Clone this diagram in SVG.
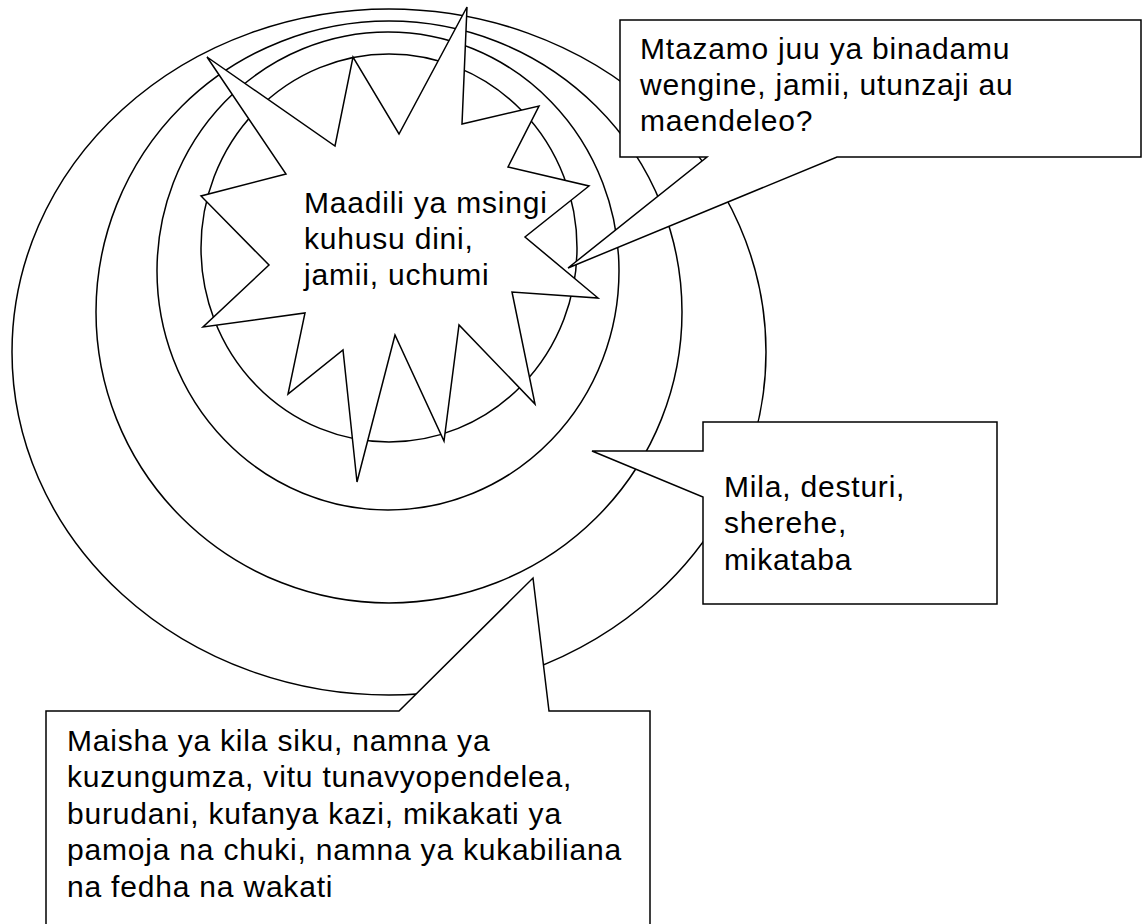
<svg xmlns="http://www.w3.org/2000/svg" width="1143" height="924" viewBox="0 0 1143 924">
  <style>
    .shape { fill: #ffffff; stroke: #000000; stroke-width: 1.5; stroke-linejoin: miter; }
    .label { font-family: "Liberation Sans", Arial, sans-serif; font-size: 30px; letter-spacing: 0.8px; fill: #000000; }
  </style>
  <rect x="0" y="0" width="1143" height="924" fill="#ffffff"/>
  <g id="rings">
    <ellipse id="ring-outer" class="shape" cx="389" cy="352" rx="377" ry="343"/>
    <ellipse id="ring-2" class="shape" cx="389" cy="312" rx="293" ry="291"/>
    <ellipse id="ring-3" class="shape" cx="388" cy="271" rx="231" ry="239"/>
    <ellipse id="ring-inner" class="shape" cx="389" cy="248" rx="188" ry="194"/>
  </g>
  <g id="core-values">
    <polygon class="shape" points="467,7 462,124 539,106 508,167 589,186 525,237 598,298 512,292 535,404 459,325 444,441 395,335 357,482 343,350 288,394 305,313 203,327 269,265 201,196 286,174 207,57 335,146 353,57 399,134"/>
    <text class="label">
      <tspan x="304" y="213">Maadili ya msingi</tspan>
      <tspan x="304" y="249">kuhusu dini,</tspan>
      <tspan x="304" y="285">jamii, uchumi</tspan>
    </text>
  </g>
  <g id="connectors"></g>
  <g id="callout-attitudes">
    <path class="shape" d="M620,20 H1141 V157 H837 L568,268 L707,157 H620 Z"/>
    <text class="label">
      <tspan x="640" y="59">Mtazamo juu ya binadamu</tspan>
      <tspan x="640" y="95">wengine, jamii, utunzaji au</tspan>
      <tspan x="640" y="131">maendeleo?</tspan>
    </text>
  </g>
  <g id="callout-customs">
    <path class="shape" d="M703,422 H997 V604 H703 V497 L592,451 H703 Z"/>
    <text class="label">
      <tspan x="724" y="497">Mila, desturi,</tspan>
      <tspan x="724" y="533">sherehe,</tspan>
      <tspan x="724" y="570">mikataba</tspan>
    </text>
  </g>
  <g id="callout-daily-life">
    <path class="shape" d="M46,711 H399 L533,578 L549,711 H650 V940 H46 Z"/>
    <text class="label">
      <tspan x="67" y="751">Maisha ya kila siku, namna ya</tspan>
      <tspan x="67" y="787">kuzungumza, vitu tunavyopendelea,</tspan>
      <tspan x="67" y="824">burudani, kufanya kazi, mikakati ya</tspan>
      <tspan x="67" y="860">pamoja na chuki, namna ya kukabiliana</tspan>
      <tspan x="67" y="897">na fedha na wakati</tspan>
    </text>
  </g>
</svg>
